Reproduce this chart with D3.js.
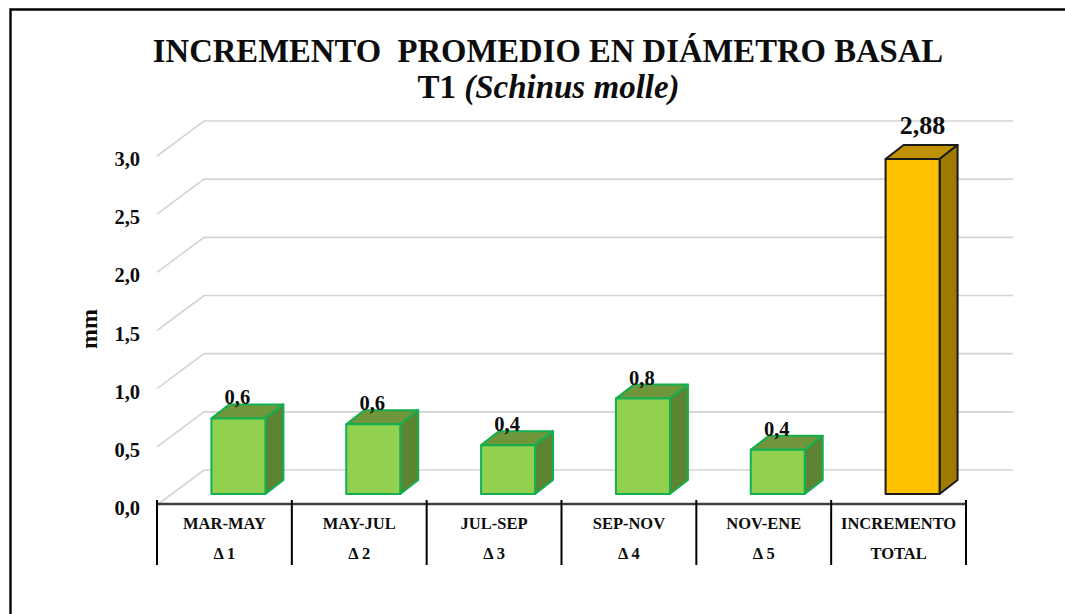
<!DOCTYPE html>
<html>
<head>
<meta charset="utf-8">
<script src="https://cdn.jsdelivr.net/npm/d3@7"></script>
<style>
  html, body { margin: 0; padding: 0; background: #fff; }
  svg { display: block; }
  text { font-family: "Liberation Serif", serif; font-weight: bold; fill: #0d0d0d; }
</style>
</head>
<body>
<svg id="chart"></svg>
<script>
let width = 1065,
    height = 614;

// values
let periods = ["MAR-MAY", "MAY-JUL", "JUL-SEP", "SEP-NOV", "NOV-ENE", "INCREMENTO"];
let deltas = ["Δ 1", "Δ 2", "Δ 3", "Δ 4", "Δ 5", "TOTAL"];
let values = [0.65, 0.60, 0.42, 0.82, 0.38, 2.88];
let valueLabels = ["0,6", "0,6", "0,4", "0,8", "0,4", "2,88"];
let yTicks = [0, 0.5, 1, 1.5, 2, 2.5, 3];

let svg = d3.select("svg#chart")
    .attr("width", width)
    .attr("height", height);

// outer frame, only left and top are in the picture
svg.append("path")
    .attr("d", `M10.5,${height} V9.5 H${width}`)
    .attr("fill", "none")
    .attr("stroke", "#000")
    .attr("stroke-width", 2.4);

svg.append("text")
    .attr("x", 548).attr("y", 62)
    .attr("text-anchor", "middle")
    .attr("font-size", 32.7)
    .attr("xml:space", "preserve")
    .text("INCREMENTO  PROMEDIO EN DIÁMETRO BASAL");

let subtitle = svg.append("text")
    .attr("x", 548.5).attr("y", 98)
    .attr("text-anchor", "middle")
    .attr("font-size", 33);
subtitle.append("tspan").text("T1 ");
subtitle.append("tspan").attr("font-style", "italic").text("(Schinus molle)");

let x = d3.scaleBand()
    .domain(periods)
    .range([157, 966]);

// y is on the front plane of the 3D box
let y = d3.scaleLinear()
    .domain([0, 3])
    .range([505, 156]);

let depthX = 47,
    depthY = 35;

// gridlines: the slanted wall part, then across the back wall
svg.append("g").selectAll("path")
    .data(yTicks)
    .enter().append("path")
    .attr("d", d => `M${157},${y(d)} L${157 + depthX},${y(d) - depthY} H1013`)
    .attr("fill", "none")
    .attr("stroke", "#d4d4d4")
    .attr("stroke-width", 1.6);

let yAxis = d3.axisLeft(y)
    .tickValues(yTicks)
    .tickSize(0)
    .tickFormat(d => d3.format(".1f")(d).replace(".", ","));

svg.append("g")
    .attr("transform", "translate(143, 3)")
    .call(yAxis)
    .call(g => g.select(".domain").remove())
    .selectAll("text")
    .attr("font-size", 20.5)
    .style("font-family", "'Liberation Serif', serif");

svg.append("text")
    .attr("transform", "translate(97, 329) rotate(-90)")
    .attr("text-anchor", "middle")
    .attr("font-size", 24)
    .text("mm");

// bars stand in the middle of the floor depth
let barWidth = 54,
    barDepthX = 18,
    barDepthY = 14,
    barOffsetX = 14,
    barBase = 494;

let isTotal = i => i === values.length - 1;
let barH = d => y(0) - y(d);

let bars = svg.append("g").selectAll("g")
    .data(values)
    .enter().append("g")
    .attr("transform", (d, i) => `translate(${x(periods[i]) + x.bandwidth() / 2 + barOffsetX - barWidth / 2}, ${barBase})`)
    .attr("stroke", (d, i) => isTotal(i) ? "#1a1a1a" : "#12b050")
    .attr("stroke-width", 2)
    .attr("stroke-linejoin", "round");

// roof
bars.append("path")
    .attr("d", d => `M0,${-barH(d)} l${barDepthX},${-barDepthY} h${barWidth} l${-barDepthX},${barDepthY} z`)
    .attr("fill", (d, i) => isTotal(i) ? "#bf9000" : "#6f963a");

// side
bars.append("path")
    .attr("d", d => `M${barWidth},0 V${-barH(d)} l${barDepthX},${-barDepthY} V${-barDepthY} z`)
    .attr("fill", (d, i) => isTotal(i) ? "#a07a00" : "#5d8433");

// front
bars.append("rect")
    .attr("y", d => -barH(d))
    .attr("width", barWidth)
    .attr("height", d => barH(d))
    .attr("fill", (d, i) => isTotal(i) ? "#ffc000" : "#92d050");

bars.append("text")
    .attr("stroke", "none")
    .attr("x", (d, i) => isTotal(i) ? barWidth / 2 + 10 : barWidth / 2 - 1)
    .attr("y", (d, i) => -barH(d) + (isTotal(i) ? -25 : -14))
    .attr("text-anchor", "middle")
    .attr("font-size", (d, i) => isTotal(i) ? 26 : 20.5)
    .text((d, i) => valueLabels[i]);

// category axis, with the long separators below it
svg.append("line")
    .attr("x1", 157).attr("x2", 966)
    .attr("y1", 504).attr("y2", 504)
    .attr("stroke", "#404040")
    .attr("stroke-width", 2.5);

let separators = periods.map(p => x(p)).concat(966);

svg.append("g").selectAll("line")
    .data(separators)
    .enter().append("line")
    .attr("x1", d => d).attr("x2", d => d)
    .attr("y1", 500).attr("y2", 565)
    .attr("stroke", "#000")
    .attr("stroke-width", 2);

svg.append("g").selectAll("text")
    .data(periods)
    .enter().append("text")
    .attr("x", d => x(d) + x.bandwidth() / 2)
    .attr("y", 529)
    .attr("text-anchor", "middle")
    .attr("font-size", 16.5)
    .text(d => d);

svg.append("g").selectAll("text")
    .data(deltas)
    .enter().append("text")
    .attr("x", (d, i) => x(periods[i]) + x.bandwidth() / 2)
    .attr("y", 559)
    .attr("text-anchor", "middle")
    .attr("font-size", 16.5)
    .text(d => d);
</script>
</body>
</html>
